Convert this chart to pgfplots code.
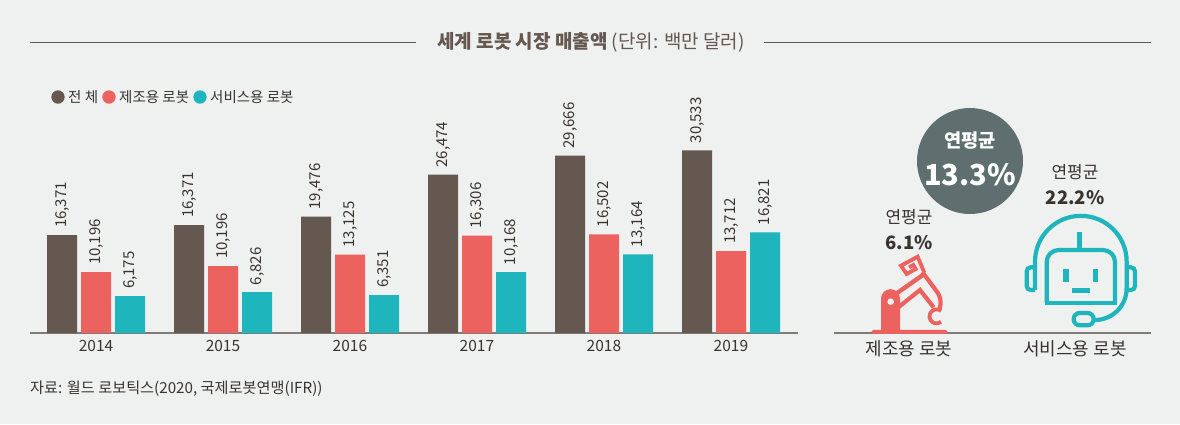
\documentclass[border=0pt]{standalone}
\usepackage{fontspec}
\setmainfont{Noto Sans CJK KR}
\usepackage{pgfplots}
\usepackage{pgfplotstable}
\pgfplotsset{compat=1.18}
\definecolor{bg}{HTML}{EFF0F0}
\definecolor{cTotal}{HTML}{645850}
\definecolor{cMfg}{HTML}{EC625F}
\definecolor{cSvc}{HTML}{1FB5BC}
\definecolor{cCirc}{HTML}{5F6F70}
\definecolor{cTxt}{HTML}{3A3431}
\definecolor{cAxis}{HTML}{7F7B78}
\pgfplotstableread{
x y l
2014 16371 16,371
2015 18060 16,371
2016 19476 19,476
2017 26474 26,474
2018 29666 29,666
2019 30533 30,533
}\tTotal
\pgfplotstableread{
x y l
2014 10196 10,196
2015 11200 10,196
2016 13125 13,125
2017 16306 16,306
2018 16502 16,502
2019 13712 13,712
}\tMfg
\pgfplotstableread{
x y l
2014 6175 6,175
2015 6826 6,826
2016 6351 6,351
2017 10168 10,168
2018 13164 13,164
2019 16821 16,821
}\tSvc
\newcommand{\fs}[1]{\fontsize{#1}{#1}\selectfont}
\begin{document}
\begin{tikzpicture}
\begin{scope}[x=1bp,y=-1bp]
\path[use as bounding box,fill=bg] (0,0) rectangle (1180,424);
% title
\draw[cTotal,line width=0.8bp] (30,42) -- (416,42);
\draw[cTotal,line width=0.8bp] (764,42) -- (1151,42);
\node[text=cTotal,anchor=center,inner sep=0] at (591,42) {\fs{19bp}\textbf{세계 로봇 시장 매출액} (단위: 백만 달러)};
% legend
\fill[cTotal] (58,97) circle (6.7);
\fill[cMfg] (109,97) circle (6.7);
\fill[cSvc] (200,97) circle (6.7);
\node[text=cTxt,anchor=west,inner sep=0] at (68,97) {\fs{14.5bp}전 체};
\node[text=cTxt,anchor=west,inner sep=0] at (119,97) {\fs{14.5bp}제조용 로봇};
\node[text=cTxt,anchor=west,inner sep=0] at (210,97) {\fs{14.5bp}서비스용 로봇};
% source
\node[text=cTxt,anchor=west,inner sep=0] at (30,389) {\fs{15.2bp}자료: 월드 로보틱스(2020, 국제로봇연맹(IFR))};
% right baseline
\draw[cAxis,line width=1.3bp] (834,333) -- (1151,333);
% circle
\fill[cCirc] (970,161) circle (53);
\node[text=white,inner sep=0] at (970,141) {\fs{18.7bp}\textbf{연평균}};
\node[text=white,inner sep=0] at (970,175) {\fs{29bp}\textbf{13.3\%}};
\node[text=cTxt,inner sep=0] at (909,217) {\fs{17bp}연평균};
\node[text=cTxt,inner sep=0] at (909,243) {\fs{18.5bp}\textbf{6.1\%}};
\node[text=cTxt,inner sep=0] at (1075,172) {\fs{17bp}연평균};
\node[text=cTxt,inner sep=0] at (1075,198) {\fs{18.5bp}\textbf{22.2\%}};
\node[text=cTxt,inner sep=0] at (909,349) {\fs{18bp}제조용 로봇};
\node[text=cTxt,inner sep=0] at (1075,349) {\fs{18bp}서비스용 로봇};
% industrial robot icon
\begin{scope}[shift={(865,250)},x=0.3333bp,y=-0.3333bp]
\draw[cMfg,line width=3.8bp,miter limit=4] (132,52) -- (145,45) -- (152,57) -- (125,72) -- (108,47) -- (158,20) -- (178,68);
\draw[cMfg,line width=4.4bp] (95,130) -- (178,72);
\draw[cMfg,line width=4.2bp,rounded corners=8bp] (172,66) -- (232,147) -- (222,182);
\draw[cMfg,line width=4.2bp] (100,172) -- (165,120) -- (206,172);
\draw[cMfg,line width=3.8bp] (228,183) arc (-50:-310:21);
\fill[cMfg] (48,245) -- (48,146) arc (180:360:28.5) -- (105,245) -- cycle;
\fill[bg] (77,155) circle (10);
\fill[cMfg,rounded corners=1.5bp] (20,240) rectangle (247,252);
\end{scope}
% service robot icon
\begin{scope}[shift={(1015,210)},x=0.3333bp,y=-0.3333bp]
\def\lw{4.2bp}
\draw[cSvc,line width=\lw] (60,240) -- (60,155) arc (180:360:137.5) -- (335,240);
\draw[cSvc,line width=\lw] (335,235) arc (0:90:95);
\draw[cSvc,line width=\lw,rounded corners=4bp] (60,172) -- (35,172) -- (35,240) -- (60,240);
\draw[cSvc,line width=\lw,rounded corners=4bp] (335,172) -- (360,172) -- (360,240) -- (335,240);
\draw[cSvc,line width=\lw,rounded corners=12bp] (95,278) -- (95,120) -- (300,120) -- (300,278);
\draw[cSvc,line width=\lw,line cap=rect] (95,278) -- (300,278);
\draw[cSvc,line width=5.2bp] (193,65) -- (193,120);
\draw[cSvc,line width=5.4bp] (153,177) -- (153,216);
\draw[cSvc,line width=5.4bp] (242,177) -- (242,216);
\draw[cSvc,line width=4.4bp] (170,241) -- (225,241);
\draw[cSvc,line width=\lw,rounded corners=6bp] (176,309) rectangle (236,346);
\end{scope}
\end{scope}
\begin{axis}[
  at={(30bp,-333bp)},anchor=south west,
  scale only axis,width=768bp,height=209.3bp,
  xmin=2013.4803,xmax=2019.5276,ymin=0,ymax=35000,
  axis x line*=bottom,axis y line=none,
  x axis line style={-,cAxis,line width=1.3bp},
  xtick={2014,...,2019},
  xticklabels={2014,2015,2016,2017,2018,2019},
  major tick length=0pt,
  xticklabel style={text=cTxt,font=\fs{15.5bp},inner sep=0pt,yshift=-7bp},
  ybar,bar width=30bp,
  clip=false,
  point meta=explicit symbolic,
  nodes near coords={\pgfplotspointmeta},
  every node near coord/.append style={rotate=90,anchor=west,text=cTxt,font=\fs{15bp},inner sep=7pt},
]
\addplot[draw=none,fill=cTotal,bar shift=-34bp] table[x=x,y=y,meta=l]{\tTotal};
\addplot[draw=none,fill=cMfg,bar shift=0bp] table[x=x,y=y,meta=l]{\tMfg};
\addplot[draw=none,fill=cSvc,bar shift=34bp] table[x=x,y=y,meta=l]{\tSvc};
\end{axis}
\end{tikzpicture}
\end{document}
